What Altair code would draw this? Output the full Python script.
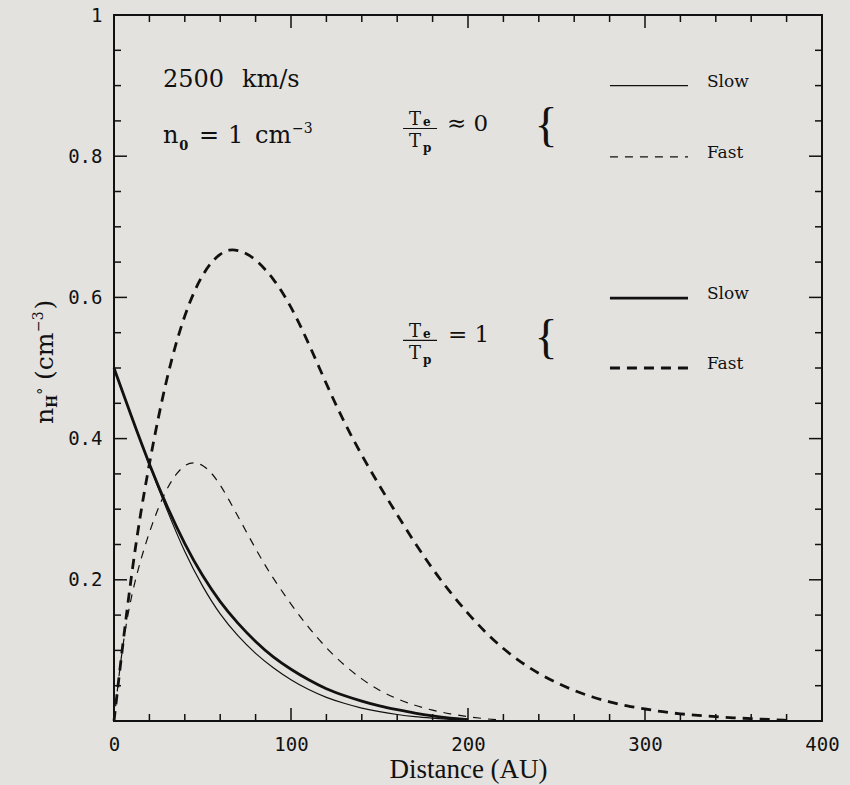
import altair as alt
import pandas as pd

# ---------------------------------------------------------------
# Neutral hydrogen density n_H0 (cm^-3) versus distance (AU)
# 2500 km/s, n0 = 1 cm^-3
# ---------------------------------------------------------------

# Te/Tp ~ 0, slow
cold_slow_d = [0, 10, 20, 30, 40, 50, 60, 70, 80, 90, 100, 110, 120, 130, 140,
               150, 160, 170, 180, 190, 200]
cold_slow_n = [0.50, 0.43, 0.362, 0.298, 0.238, 0.190, 0.150, 0.120, 0.095, 0.075,
               0.058, 0.044, 0.033, 0.025, 0.018, 0.013, 0.009, 0.006, 0.004, 0.002, 0.001]

# Te/Tp ~ 0, fast
cold_fast_d = [0, 3, 6, 10, 15, 20, 25, 30, 35, 40, 45, 50, 55, 60, 65, 70, 75, 80,
               85, 90, 100, 110, 120, 130, 140, 150, 160, 170, 180, 190, 200, 210, 220]
cold_fast_n = [0.0, 0.07, 0.125, 0.18, 0.228, 0.268, 0.302, 0.33, 0.35, 0.363, 0.367,
               0.363, 0.352, 0.335, 0.313, 0.29, 0.267, 0.244, 0.222, 0.202, 0.165,
               0.132, 0.103, 0.079, 0.059, 0.043, 0.031, 0.022, 0.015, 0.010, 0.006,
               0.003, 0.001]

# Te/Tp = 1, slow
warm_slow_d = [0, 10, 20, 30, 40, 50, 60, 70, 80, 90, 100, 110, 120, 130, 140,
               150, 160, 170, 180, 190, 200]
warm_slow_n = [0.50, 0.43, 0.363, 0.303, 0.25, 0.205, 0.168, 0.138, 0.112, 0.09,
               0.073, 0.058, 0.045, 0.036, 0.028, 0.021, 0.016, 0.011, 0.007, 0.004, 0.002]

# Te/Tp = 1, fast
warm_fast_d = [0, 5, 10, 15, 20, 25, 30, 35, 40, 45, 50, 55, 60, 65, 70, 75, 80,
               90, 100, 110, 120, 130, 140, 150, 160, 170, 180, 190, 200, 210, 220,
               230, 240, 250, 260, 270, 280, 290, 300, 310, 320, 330, 340, 350, 360,
               370, 380]
warm_fast_n = [0.0, 0.11, 0.21, 0.295, 0.365, 0.43, 0.487, 0.535, 0.575, 0.607, 0.632,
               0.65, 0.662, 0.668, 0.667, 0.662, 0.654, 0.628, 0.588, 0.535, 0.477,
               0.423, 0.376, 0.333, 0.292, 0.252, 0.215, 0.182, 0.152, 0.125, 0.102,
               0.083, 0.067, 0.054, 0.043, 0.034, 0.027, 0.021, 0.017, 0.013, 0.010,
               0.008, 0.006, 0.0045, 0.0033, 0.0022, 0.001]

# axis ticks
x_labels = [0, 100, 200, 300, 400]
x_major = [100, 200, 300]
x_minor = [20, 40, 60, 80, 120, 140, 160, 180, 220, 240, 260, 280, 320, 340, 360, 380]
y_labels = [0.2, 0.4, 0.6, 0.8, 1.0]
y_major = [0.2, 0.4, 0.6, 0.8]
y_minor = [0.05, 0.1, 0.15, 0.25, 0.3, 0.35, 0.45, 0.5, 0.55, 0.65, 0.7, 0.75,
           0.85, 0.9, 0.95]

# key: sample segments and labels
key_d = [280.2, 324.3]
key_n = [0.900, 0.799, 0.599, 0.500]
key_text = ["Slow", "Fast", "Slow", "Fast"]
key_text_d = 335.0

W, H = 708, 706
INK = "#111111"
BG = "#e4e2de"
SERIF = "DejaVu Serif"
MONO = "DejaVu Sans Mono"

xs = alt.Scale(domain=[0, 400], nice=False, zero=False)
ys = alt.Scale(domain=[0, 1], nice=False, zero=False)


def X(axis=None):
    if axis is None:
        return alt.X("d:Q", scale=xs, title="")
    return alt.X("d:Q", scale=xs, axis=axis, title="Distance (AU)")


def Y(axis=None):
    if axis is None:
        return alt.Y("n:Q", scale=ys, title="")
    return alt.Y("n:Q", scale=ys, axis=axis, title="")


x_axis = alt.Axis(values=x_labels, tickSize=0, domain=False, grid=False,
                  labelFont=MONO, labelFontSize=19, labelColor=INK, labelPadding=14,
                  labelFlush=False, format="d",
                  titleFont="Liberation Serif",
                  titleFontSize=27, titleFontWeight="normal", titleColor=INK,
                  titlePadding=2)
y_axis = alt.Axis(values=y_labels, tickSize=0, domain=False, grid=False,
                  labelFont=MONO, labelFontSize=19, labelColor=INK, labelPadding=12,
                  labelFlush=False,
                  labelExpr="datum.value == 1 ? '1' : format(datum.value, '.1f')")


def curve(d, n, width, dash=None, axes=False):
    df = pd.DataFrame({"d": d, "n": n})
    kw = dict(color=INK, strokeWidth=width, interpolate="basis")
    if dash:
        kw["strokeDash"] = dash
    return alt.Chart(df).mark_line(**kw).encode(
        x=X(x_axis if axes else None), y=Y(y_axis if axes else None))


curves = [
    curve(cold_slow_d, cold_slow_n, 1.2, axes=True),
    curve(cold_fast_d, cold_fast_n, 1.2, dash=[8, 7]),
    curve(warm_slow_d, warm_slow_n, 2.8),
    curve(warm_fast_d, warm_fast_n, 2.8, dash=[10, 7]),
]


# inward ticks on all four sides
def xticks(vals, length):
    df = pd.DataFrame({"d": vals})
    bottom = alt.Chart(df).mark_rule(color=INK, strokeWidth=1.5).encode(
        x=X(), y=alt.value(H), y2=alt.value(H - length))
    top = alt.Chart(df).mark_rule(color=INK, strokeWidth=1.5).encode(
        x=X(), y=alt.value(0), y2=alt.value(length))
    return [bottom, top]


def yticks(vals, length):
    df = pd.DataFrame({"n": vals})
    left = alt.Chart(df).mark_rule(color=INK, strokeWidth=1.5).encode(
        y=Y(), x=alt.value(0), x2=alt.value(length))
    right = alt.Chart(df).mark_rule(color=INK, strokeWidth=1.5).encode(
        y=Y(), x=alt.value(W), x2=alt.value(W - length))
    return [left, right]


ticks = xticks(x_major, 13) + xticks(x_minor, 7) + yticks(y_major, 13) + yticks(y_minor, 7)

# key
key_lines = []
for i, (yv, width, dash) in enumerate([(key_n[0], 1.2, [8, 7]), (key_n[1], 1.2, [8, 7]),
                                       (key_n[2], 2.8, [10, 7]), (key_n[3], 2.8, [10, 7])]):
    df = pd.DataFrame({"d": key_d, "n": [yv, yv]})
    kw = dict(color=INK, strokeWidth=width)
    if i in (1, 3):
        kw["strokeDash"] = dash
    key_lines.append(alt.Chart(df).mark_line(**kw).encode(x=X(), y=Y()))

key_labels = alt.Chart(pd.DataFrame({"d": [key_text_d] * 4, "n": key_n, "t": key_text})).mark_text(
    font=SERIF, fontSize=17, color=INK, align="left", baseline="alphabetic", dy=1
).encode(x=X(), y=Y(), text="t:N")


def texts(d, n, t, size, weight="normal", align="left", baseline="alphabetic",
          angle=0, font=SERIF):
    df = pd.DataFrame({"d": d, "n": n, "t": t})
    kw = dict(font=font, fontSize=size, fontWeight=weight, color=INK, align=align,
              baseline=baseline)
    if angle:
        kw["angle"] = angle
    return alt.Chart(df).mark_text(**kw).encode(x=X(), y=Y(), text="t:N")


# speed and density labels
ann_big = texts([27.7, 72.3, 27.7, 48.0, 64.4, 79.7],
                [0.898, 0.898, 0.8187, 0.8187, 0.8187, 0.8187],
                ["2500", "km/s", "n", "=", "1", "cm"], 24)
ann_sub0 = texts([36.9], [0.8088], ["0"], 13, weight="bold")
ann_sup3 = texts([100.6], [0.8329], ["\u22123"], 14)

# temperature-ratio fractions
frac_T = texts([170.1, 170.1, 170.1, 170.1],
               [0.8442, 0.8130, 0.5439, 0.5127], ["T", "T", "T", "T"], 18, align="center")
frac_sub = texts([174.6, 174.6, 174.6, 174.6],
                 [0.8428, 0.8059, 0.5425, 0.5057], ["e", "p", "e", "p"], 12,
                 weight="bold", align="left")
frac_rel = texts([188.1, 188.7], [0.8357, 0.5368], ["\u2248 0", "= 1"], 23)
frac_bar = alt.Chart(pd.DataFrame({"d": [163.3, 163.3], "d2": [182.5, 182.5],
                                   "n": [0.8392, 0.5390]})).mark_rule(
    color=INK, strokeWidth=1.2).encode(x=X(), x2="d2:Q", y=Y())
braces = texts([244.1, 244.1], [0.8407, 0.5404], ["{", "{"], 48, align="center",
               baseline="middle", font="Liberation Serif")

# y-axis title, built from pieces so that the subscript and superscripts sit right
ytitle_main = texts([-34.5, -34.5, -34.5], [0.4206, 0.4830, 0.5830],
                    ["n", "(cm", ")"], 25, angle=270)
ytitle_sub = texts([-32.0], [0.4432], ["H"], 14, weight="bold", angle=270)
ytitle_deg = texts([-37.5], [0.4622], ["\u00b0"], 14, angle=270)
ytitle_sup = texts([-40.0], [0.5510], ["\u22123"], 14, angle=270)

layers = (curves + ticks + key_lines +
          [key_labels, ann_big, ann_sub0, ann_sup3, frac_T, frac_sub, frac_rel,
           frac_bar, braces, ytitle_main, ytitle_sub, ytitle_deg, ytitle_sup])

chart = alt.layer(*layers).properties(
    width=W, height=H,
    autosize=alt.AutoSizeParams(type="none"),
    padding={"left": 114, "top": 15, "right": 28, "bottom": 64},
    background=BG,
).configure_view(stroke=INK, strokeWidth=2, fill=BG)

chart.save("out.html", embed_options={"renderer": "svg", "actions": False})
